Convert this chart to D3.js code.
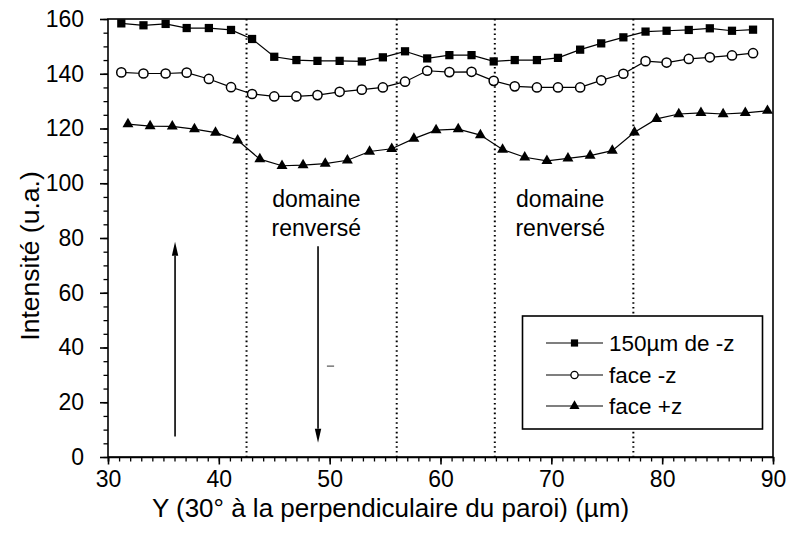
<!DOCTYPE html>
<html><head><meta charset="utf-8">
<script src="https://cdn.jsdelivr.net/npm/d3@7"></script>
<style>
body{margin:0;background:#fff;}
svg text{font-family:"Liberation Sans",Arial,Helvetica,sans-serif;fill:#000;}
</style></head>
<body><svg id="chart" width="788" height="534"></svg>
<script>
// ---- data ----
const xSquareCircle = [31.2,33.2,35.2,37.1,39.1,41.1,43.0,45.0,47.0,48.9,50.9,52.9,54.8,56.8,58.8,60.8,62.8,64.8,66.7,68.7,70.6,72.6,74.5,76.5,78.5,80.4,82.4,84.3,86.3,88.2];
const xTriangle = [31.8,33.8,35.8,37.8,39.7,41.7,43.7,45.7,47.6,49.6,51.6,53.6,55.6,57.6,59.6,61.6,63.6,65.6,67.6,69.6,71.5,73.5,75.5,77.5,79.5,81.5,83.5,85.5,87.5,89.5];
const s150 = [158.4,157.7,158.2,156.7,156.7,156.0,152.7,146.2,145.0,144.7,144.7,144.5,146.0,148.2,145.6,146.8,146.8,144.5,145.0,145.0,145.8,148.8,151.1,153.3,155.4,155.7,156.0,156.6,155.7,156.1];
const sFaceMinus = [140.5,140.1,140.1,140.4,138.1,135.1,132.6,131.7,131.7,132.2,133.4,134.2,135.0,137.1,141.1,140.6,140.7,137.4,135.4,135.0,135.0,135.0,137.6,140.0,144.6,144.1,145.4,146.0,146.7,147.5];
const sFacePlus = [121.6,120.9,120.8,119.8,118.5,115.7,108.8,106.4,106.6,107.2,108.4,111.6,112.6,116.3,119.4,119.8,117.6,112.3,109.5,108.2,109.1,110.1,111.9,118.6,123.5,125.3,125.7,125.3,125.7,126.5];
const seriesNames = ["150µm de -z","face -z","face +z"];
const xTicks = [30,40,50,60,70,80,90];
const yTicks = [0,20,40,60,80,100,120,140,160];
const boundaries = [42.5,56.05,64.9,77.4];
const domainLabels = [{x:48.8, lines:["domaine","renversé"]},{x:70.8, lines:["domaine","renversé"]}];
const arrows = [{x:36.05, from:7.5, to:78.6},{x:48.95, from:77.0, to:5.2}];
const xTitle = "Y (30° à la perpendiculaire du paroi) (µm)";
const yTitle = "Intensité (u.a.)";

// ---- layout ----
const W=788,H=534, m={l:108,r:15,t:19,b:77};
const svg=d3.select("#chart");
const x=d3.scaleLinear().domain([30,90]).range([m.l,W-m.r]);
const y=d3.scaleLinear().domain([0,160]).range([H-m.b,m.t]);

// frame
svg.append("rect").attr("x",m.l).attr("y",m.t).attr("width",W-m.r-m.l).attr("height",H-m.b-m.t)
  .attr("fill","none").attr("stroke","#000").attr("stroke-width",1.6);

// x axis
const xAx=svg.append("g").attr("transform",`translate(0,${H-m.b})`)
  .call(d3.axisBottom(x).tickValues(d3.range(30,91,1)).tickSize(4.5).tickFormat(""));
xAx.select(".domain").attr("stroke-width",1.6);
xAx.selectAll("line").attr("stroke-width",1.3);
const xAx2=svg.append("g").attr("transform",`translate(0,${H-m.b})`)
  .call(d3.axisBottom(x).tickValues(xTicks).tickSize(7.5).tickPadding(6).tickFormat(d3.format("d")));
xAx2.select(".domain").remove();
xAx2.selectAll("line").attr("stroke-width",1.6);
xAx2.selectAll("text").attr("font-size",23).attr("font-family","Liberation Sans, Arial, sans-serif");

// y axis
const yAx=svg.append("g").attr("transform",`translate(${m.l},0)`)
  .call(d3.axisLeft(y).tickValues(d3.range(0,161,5)).tickSize(4.5).tickFormat(""));
yAx.select(".domain").remove();
yAx.selectAll("line").attr("stroke-width",1.3);
const yAx2=svg.append("g").attr("transform",`translate(${m.l},0)`)
  .call(d3.axisLeft(y).tickValues(yTicks).tickSize(8).tickPadding(16).tickFormat(d3.format("d")));
yAx2.select(".domain").remove();
yAx2.selectAll("line").attr("stroke-width",1.6);
yAx2.selectAll("text").attr("font-size",23).attr("font-family","Liberation Sans, Arial, sans-serif");

// titles
svg.append("text").attr("x",(x(30)+x(90))/2-50).attr("y",H-17).attr("text-anchor","middle")
  .attr("font-size",26).text(xTitle);
svg.append("text").attr("transform",`translate(39,${(y(0)+y(160))/2+18}) rotate(-90)`).attr("text-anchor","middle")
  .attr("font-size",26.5).text(yTitle);

// boundaries
svg.selectAll(".bnd").data(boundaries).enter().append("line")
  .attr("x1",d=>x(d)).attr("x2",d=>x(d)).attr("y1",y(160)).attr("y2",y(0))
  .attr("stroke","#000").attr("stroke-width",2).attr("stroke-dasharray","1.6,3.2");

// domain labels
domainLabels.forEach(d=>{
  d.lines.forEach((t,i)=>{
    svg.append("text").attr("x",x(d.x)).attr("y",y(91.2)+i*28.5).attr("text-anchor","middle")
      .attr("font-size",23).text(t);
  });
});

// arrows
arrows.forEach(a=>{
  const dir = a.to>a.from ? 1 : -1; // +1: tip is at top, head base below it
  const tipY=y(a.to), cx=x(a.x), baseY=tipY+dir*14;
  svg.append("line").attr("x1",cx).attr("x2",cx).attr("y1",y(a.from)).attr("y2",baseY)
    .attr("stroke","#000").attr("stroke-width",1.6);
  svg.append("path").attr("d",`M${cx},${tipY} L${cx-3.2},${baseY} L${cx+3.2},${baseY} Z`).attr("fill","#000");
});
// small stray mark
svg.append("line").attr("x1",x(49.75)).attr("x2",x(50.4)).attr("y1",y(33.2)).attr("y2",y(33.2)).attr("stroke","#555").attr("stroke-width",1.2);

// series
const line=d3.line();
function series(xs, ys){ return xs.map((v,i)=>[x(v),y(ys[i])]); }
const pts150=series(xSquareCircle,s150), ptsFM=series(xSquareCircle,sFaceMinus), ptsFP=series(xTriangle,sFacePlus);
[pts150,ptsFM,ptsFP].forEach(p=>{
  svg.append("path").attr("d",line(p)).attr("fill","none").attr("stroke","#000").attr("stroke-width",1.2);
});
const sq=d3.symbol().type(d3.symbolSquare).size(68);
const tri=d3.symbol().type(d3.symbolTriangle).size(52);
svg.selectAll(".sq").data(pts150).enter().append("path").attr("d",sq).attr("transform",d=>`translate(${d[0]},${d[1]})`).attr("fill","#000");
svg.selectAll(".ci").data(ptsFM).enter().append("circle").attr("cx",d=>d[0]).attr("cy",d=>d[1]).attr("r",4.6)
  .attr("fill","#fff").attr("stroke","#000").attr("stroke-width",1.5);
svg.selectAll(".tr").data(ptsFP).enter().append("path").attr("d",tri).attr("transform",d=>`translate(${d[0]},${d[1]})`).attr("fill","#000");

// legend
const lg=svg.append("g");
lg.append("rect").attr("x",522.5).attr("y",316).attr("width",240).attr("height",113)
  .attr("fill","#fff").attr("stroke","#000").attr("stroke-width",1.6);
const rowsY=[343,375,406];
seriesNames.forEach((n,i)=>{
  const yy=rowsY[i];
  lg.append("line").attr("x1",546).attr("x2",603).attr("y1",yy).attr("y2",yy).attr("stroke","#000").attr("stroke-width",1.1);
  if(i===0) lg.append("path").attr("d",d3.symbol().type(d3.symbolSquare).size(52)).attr("transform",`translate(574.5,${yy})`).attr("fill","#000");
  if(i===1) lg.append("circle").attr("cx",574.5).attr("cy",yy).attr("r",3.6).attr("fill","#fff").attr("stroke","#000").attr("stroke-width",1.3);
  if(i===2) lg.append("path").attr("d",d3.symbol().type(d3.symbolTriangle).size(44)).attr("transform",`translate(574.5,${yy})`).attr("fill","#000");
  lg.append("text").attr("x",609).attr("y",yy+8).attr("font-size",22.5).text(n);
});
</script></body></html>
